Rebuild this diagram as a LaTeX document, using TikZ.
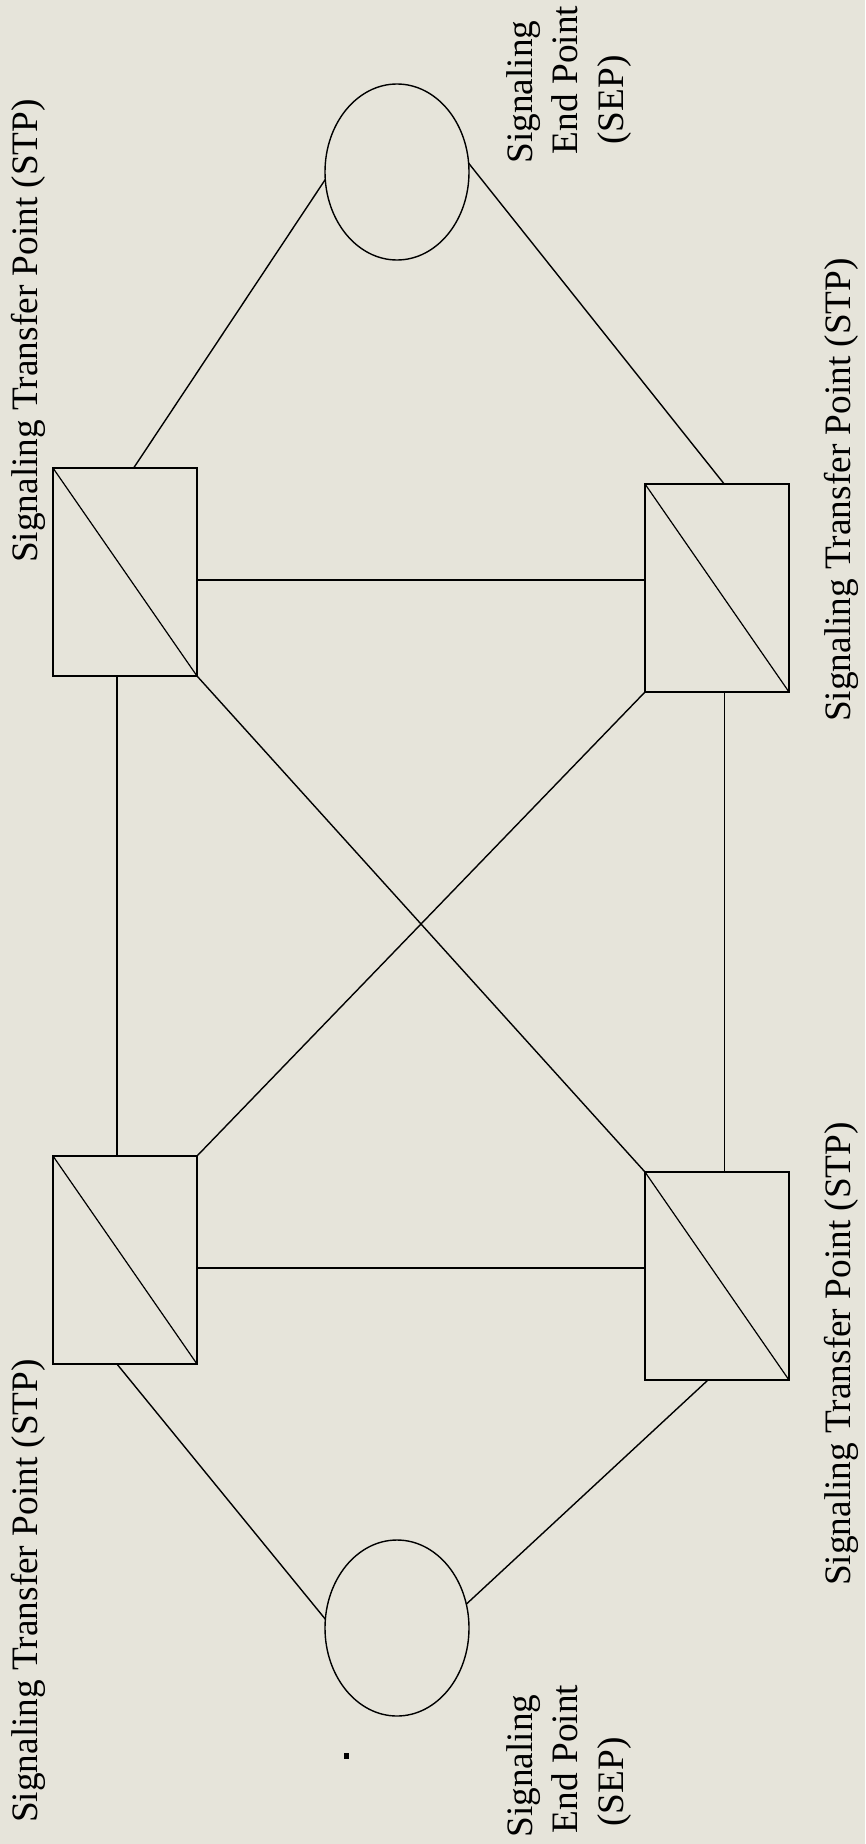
\documentclass[tikz,border=0pt]{standalone}
\usepackage{fontspec}
\setmainfont{Liberation Serif}
\usetikzlibrary{shapes.geometric,calc}
\definecolor{bg}{RGB}{230,228,218}
\begin{document}
\begin{tikzpicture}[x=1pt,y=-1pt,
  stp/.style={draw, rectangle, minimum width=144pt, minimum height=208pt, inner sep=0pt, outer sep=0pt, line width=1.6pt},
  sep/.style={draw, ellipse, minimum width=144pt, minimum height=176pt, inner sep=0pt, outer sep=0pt, line width=1.4pt},
  link/.style={line width=1.4pt},
  diag/.style={line width=1.2pt},
  lbl/.style={rotate=90, anchor=base, inner sep=0pt, font=\fontsize{37.3}{43}\selectfont}]
\fill[bg] (0,0) rectangle (865,1844);
\useasboundingbox (0,0) rectangle (865,1844);

% nodes
\node[sep] (E1) at (397,172) {};
\node[sep] (E2) at (397,1628) {};
\node[stp] (TL) at (125,572) {};
\node[stp] (TR) at (717,588) {};
\node[stp] (BL) at (125,1260) {};
\node[stp] (BR) at (717,1276) {};

% diagonals
\foreach \n in {TL,TR,BL,BR} \draw[diag] (\n.north west) -- (\n.south east);

% connectors
\coordinate (TLn) at ($(TL.north west)!0.56!(TL.north east)$);
\coordinate (TRn) at ($(TR.north west)!0.55!(TR.north east)$);
\coordinate (TLs) at ($(TL.south west)!0.444!(TL.south east)$);
\coordinate (TRs) at ($(TR.south west)!0.55!(TR.south east)$);
\coordinate (BLs) at ($(BL.south west)!0.444!(BL.south east)$);
\coordinate (BRs) at ($(BR.south west)!0.4375!(BR.south east)$);
\coordinate (TLe) at ($(TL.north east)!0.538!(TL.south east)$);
\coordinate (BLe) at ($(BL.north east)!0.538!(BL.south east)$);

\draw[link] (E1.186) -- (TLn);
\draw[link] (E1.7) -- (TRn);
\draw[link] (TLe) -- (TLe -| TR.west);
\draw[link] (BLe) -- (BLe -| BR.west);
\draw[link] (TLs) -- (TLs |- BL.north);
\draw[link] (TRs) -- (TRs |- BR.north);
\draw[link] (TL.south east) -- (BR.north west);
\draw[link] (TR.south west) -- (BL.north east);
\draw[link] (BLs) -- (E2.173);
\draw[link] (BRs) -- (E2.19);

% labels
\node[lbl] (l1) at (37,331) {Signaling Transfer Point (STP)};
\node[lbl] (l2) at (850,490) {Signaling Transfer Point (STP)};
\node[lbl] (l3) at (37,1591) {Signaling Transfer Point (STP)};
\node[lbl] (l4) at (850,1354) {Signaling Transfer Point (STP)};

\node[lbl] (s1) at (532,92) {Signaling};
\node[lbl] (s2) at (577,80) {End Point};
\node[lbl] (s3) at (623,100) {(SEP)};
\node[lbl] (s4) at (532,1766) {Signaling};
\node[lbl] (s5) at (577,1759) {End Point};
\node[lbl] (s6) at (623,1782) {(SEP)};

\node[fill, minimum width=5pt, minimum height=6pt, inner sep=0pt, outer sep=0pt] (dot) at (346.5,1756) {};
\end{tikzpicture}
\end{document}
